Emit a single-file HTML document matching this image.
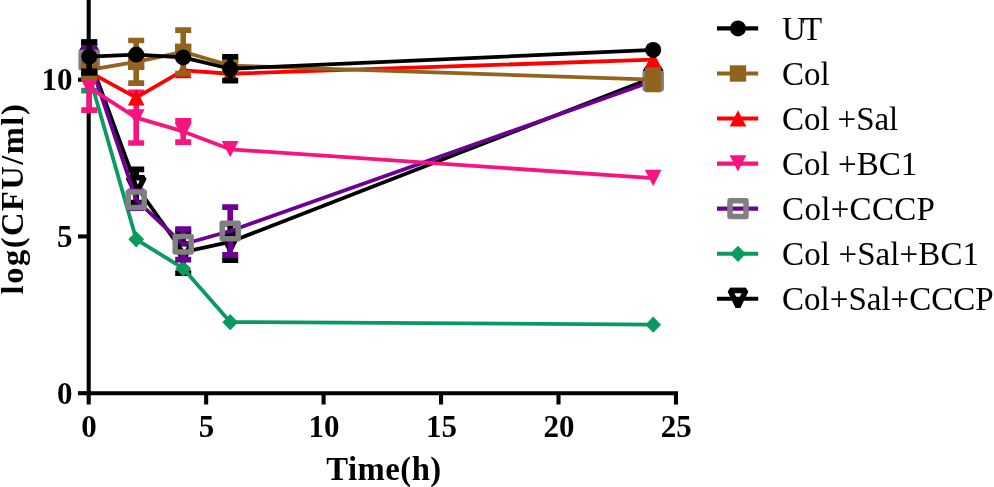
<!DOCTYPE html>
<html><head><meta charset="utf-8"><title>chart</title>
<style>html,body{margin:0;padding:0;background:#fff;}svg{display:block;will-change:transform;}text{font-family:"Liberation Serif",serif;}</style></head><body>
<svg width="994" height="487" viewBox="0 0 994 487">
<rect width="994" height="487" fill="#fff"/>
<g stroke="#000" stroke-width="4.1" fill="none" stroke-linecap="butt">
<line x1="88.7" y1="0" x2="88.7" y2="395.25"/>
<line x1="86.65" y1="393.2" x2="678" y2="393.2"/>
<line x1="88.70" y1="393" x2="88.70" y2="404.5"/>
<line x1="206.15" y1="393" x2="206.15" y2="404.5"/>
<line x1="323.60" y1="393" x2="323.60" y2="404.5"/>
<line x1="441.05" y1="393" x2="441.05" y2="404.5"/>
<line x1="558.50" y1="393" x2="558.50" y2="404.5"/>
<line x1="675.95" y1="393" x2="675.95" y2="404.5"/>
<line x1="78" y1="393.20" x2="89" y2="393.20"/>
<line x1="78" y1="236.45" x2="89" y2="236.45"/>
<line x1="78" y1="79.70" x2="89" y2="79.70"/>
</g>
<g font-weight="bold" font-size="31" fill="#000">
<text transform="translate(89.10,436.6) scale(1,1.045)" text-anchor="middle">0</text>
<text transform="translate(206.55,436.6) scale(1,1.045)" text-anchor="middle">5</text>
<text transform="translate(324.00,436.6) scale(1,1.045)" text-anchor="middle">10</text>
<text transform="translate(441.45,436.6) scale(1,1.045)" text-anchor="middle">15</text>
<text transform="translate(558.90,436.6) scale(1,1.045)" text-anchor="middle">20</text>
<text transform="translate(676.35,436.6) scale(1,1.045)" text-anchor="middle">25</text>
<text transform="translate(72.6,403.70) scale(1,1.045)" text-anchor="end">0</text>
<text transform="translate(72.6,246.95) scale(1,1.045)" text-anchor="end">5</text>
<text transform="translate(72.6,90.20) scale(1,1.045)" text-anchor="end">10</text>
</g>
<text x="384.0" y="479.6" text-anchor="middle" font-weight="bold" font-size="32.7" letter-spacing="0.5">Time(h)</text>
<text transform="translate(23,198.6) rotate(-90)" text-anchor="middle" font-weight="bold" font-size="32.5" letter-spacing="1.5">log(CFU/ml)</text>
<g>
<path d="M89.20 42.39 L89.20 49.75 M89.20 65.75 L89.20 73.12 M81.20 42.39 L97.20 42.39 M81.20 73.12 L97.20 73.12" stroke="#000000" stroke-width="5.6" fill="none"/>
<path d="M136.20 169.36 L136.20 177.98 M136.20 193.98 L136.20 202.59 M128.20 169.36 L144.20 169.36 M128.20 202.59 L144.20 202.59" stroke="#000000" stroke-width="5.6" fill="none"/>
<path d="M183.20 231.12 L183.20 244.12 M183.20 260.12 L183.20 273.13 M175.20 231.12 L191.20 231.12 M175.20 273.13 L191.20 273.13" stroke="#000000" stroke-width="5.6" fill="none"/>
<path d="M230.20 223.75 L230.20 233.94 M230.20 249.94 L230.20 260.12 M222.20 223.75 L238.20 223.75 M222.20 260.12 L238.20 260.12" stroke="#000000" stroke-width="5.6" fill="none"/>
<path d="M81.30 49.55 L97.10 49.55 L89.20 65.75 Z" fill="none" stroke="#000000" stroke-width="5.4" stroke-linejoin="bevel"/><path d="M81.30 49.15 L97.10 49.15" stroke="#000000" stroke-width="4.6" fill="none"/>
<path d="M128.30 177.78 L144.10 177.78 L136.20 193.98 Z" fill="none" stroke="#000000" stroke-width="5.4" stroke-linejoin="bevel"/><path d="M128.30 177.38 L144.10 177.38" stroke="#000000" stroke-width="4.6" fill="none"/>
<path d="M175.30 243.92 L191.10 243.92 L183.20 260.12 Z" fill="none" stroke="#000000" stroke-width="5.4" stroke-linejoin="bevel"/><path d="M175.30 243.52 L191.10 243.52" stroke="#000000" stroke-width="4.6" fill="none"/>
<path d="M222.30 233.74 L238.10 233.74 L230.20 249.94 Z" fill="none" stroke="#000000" stroke-width="5.4" stroke-linejoin="bevel"/><path d="M222.30 233.34 L238.10 233.34" stroke="#000000" stroke-width="4.6" fill="none"/>
<path d="M645.30 69.31 L661.10 69.31 L653.20 85.51 Z" fill="none" stroke="#000000" stroke-width="5.4" stroke-linejoin="bevel"/><path d="M645.30 68.91 L661.10 68.91" stroke="#000000" stroke-width="4.6" fill="none"/>
<polyline points="89.20,57.75 136.20,185.98 183.20,252.12 230.20,241.94 653.20,77.51" fill="none" stroke="#000000" stroke-width="3.8" stroke-linejoin="round"/>
</g>
<g>
<path d="M89.20 59.32 L89.20 90.67 M81.20 59.32 L97.20 59.32 M81.20 90.67 L97.20 90.67" stroke="#0B9962" stroke-width="5.6" fill="none"/>
<polyline points="89.20,75.00 136.20,239.27 183.20,268.43 230.20,322.04 653.20,324.54" fill="none" stroke="#0B9962" stroke-width="3.8" stroke-linejoin="round"/>
<path d="M89.20 67.00 L97.10 75.10 L89.20 83.30 L81.30 75.10 Z" fill="#0B9962"/>
<path d="M136.20 231.27 L144.10 239.37 L136.20 247.57 L128.30 239.37 Z" fill="#0B9962"/>
<path d="M183.20 260.43 L191.10 268.53 L183.20 276.73 L175.30 268.53 Z" fill="#0B9962"/>
<path d="M230.20 314.04 L238.10 322.14 L230.20 330.34 L222.30 322.14 Z" fill="#0B9962"/>
<path d="M653.20 316.54 L661.10 324.64 L653.20 332.84 L645.30 324.64 Z" fill="#0B9962"/>
</g>
<g>
<path d="M89.20 46.78 L89.20 51.95 M89.20 67.95 L89.20 73.12 M81.20 46.78 L97.20 46.78 M81.20 73.12 L97.20 73.12" stroke="#6D0094" stroke-width="5.6" fill="none"/>
<path d="M136.20 191.31 L136.20 191.77 M136.20 207.77 L136.20 208.23 M128.20 191.31 L144.20 191.31 M128.20 208.23 L144.20 208.23" stroke="#6D0094" stroke-width="5.6" fill="none"/>
<path d="M183.20 228.93 L183.20 236.29 M183.20 252.29 L183.20 259.65 M175.20 228.93 L191.20 228.93 M175.20 259.65 L191.20 259.65" stroke="#6D0094" stroke-width="5.6" fill="none"/>
<path d="M230.20 207.08 L230.20 222.96 M230.20 238.96 L230.20 254.85 M222.20 207.08 L238.20 207.08 M222.20 254.85 L238.20 254.85" stroke="#6D0094" stroke-width="5.6" fill="none"/>
<polyline points="89.20,59.95 136.20,199.77 183.20,244.29 230.20,230.96 653.20,80.95" fill="none" stroke="#6D0094" stroke-width="3.8" stroke-linejoin="round"/>
<rect x="81.20" y="52.15" width="16" height="15.6" fill="none" stroke="#808080" stroke-width="5.5" stroke-linejoin="round"/>
<rect x="128.20" y="191.97" width="16" height="15.6" fill="none" stroke="#808080" stroke-width="5.5" stroke-linejoin="round"/>
<rect x="175.20" y="236.49" width="16" height="15.6" fill="none" stroke="#808080" stroke-width="5.5" stroke-linejoin="round"/>
<rect x="222.20" y="223.16" width="16" height="15.6" fill="none" stroke="#808080" stroke-width="5.5" stroke-linejoin="round"/>
<rect x="645.20" y="73.15" width="16" height="15.6" fill="none" stroke="#808080" stroke-width="5.5" stroke-linejoin="round"/>
</g>
<g>
<path d="M89.20 64.97 L89.20 110.11 M81.20 64.97 L97.20 64.97 M81.20 110.11 L97.20 110.11" stroke="#F7147F" stroke-width="5.6" fill="none"/>
<path d="M136.20 92.24 L136.20 143.03 M128.20 92.24 L144.20 92.24 M128.20 143.03 L144.20 143.03" stroke="#F7147F" stroke-width="5.6" fill="none"/>
<path d="M183.20 120.77 L183.20 142.09 M175.20 120.77 L191.20 120.77 M175.20 142.09 L191.20 142.09" stroke="#F7147F" stroke-width="5.6" fill="none"/>
<polyline points="89.20,87.54 136.20,117.63 183.20,131.43 230.20,149.30 653.20,178.14" fill="none" stroke="#F7147F" stroke-width="3.8" stroke-linejoin="round"/>
<path d="M80.80 79.14 L97.60 79.14 L89.20 95.54 Z" fill="#F7147F"/>
<path d="M127.80 109.23 L144.60 109.23 L136.20 125.63 Z" fill="#F7147F"/>
<path d="M174.80 123.03 L191.60 123.03 L183.20 139.43 Z" fill="#F7147F"/>
<path d="M221.80 140.90 L238.60 140.90 L230.20 157.30 Z" fill="#F7147F"/>
<path d="M644.80 169.74 L661.60 169.74 L653.20 186.14 Z" fill="#F7147F"/>
</g>
<g>
<polyline points="89.20,71.86 136.20,97.57 183.20,70.29 230.20,73.74 653.20,59.64" fill="none" stroke="#FF0000" stroke-width="3.8" stroke-linejoin="round"/>
<path d="M89.20 63.66 L97.50 79.86 L80.90 79.86 Z" fill="#FF0000"/>
<path d="M136.20 89.37 L144.50 105.57 L127.90 105.57 Z" fill="#FF0000"/>
<path d="M183.20 62.09 L191.50 78.29 L174.90 78.29 Z" fill="#FF0000"/>
<path d="M230.20 65.54 L238.50 81.74 L221.90 81.74 Z" fill="#FF0000"/>
<path d="M653.20 51.44 L661.50 67.64 L644.90 67.64 Z" fill="#FF0000"/>
</g>
<g>
<path d="M89.20 62.58 L89.20 77.38 M81.20 62.58 L97.20 62.58 M81.20 77.38 L97.20 77.38" stroke="#92631D" stroke-width="5.6" fill="none"/>
<path d="M136.20 40.51 L136.20 83.15 M128.20 40.51 L144.20 40.51 M128.20 83.15 L144.20 83.15" stroke="#92631D" stroke-width="5.6" fill="none"/>
<path d="M183.20 30.17 L183.20 73.43 M175.20 30.17 L191.20 30.17 M175.20 73.43 L191.20 73.43" stroke="#92631D" stroke-width="5.6" fill="none"/>
<path d="M653.20 69.98 L653.20 89.42 M645.20 69.98 L661.20 69.98 M645.20 89.42 L661.20 89.42" stroke="#92631D" stroke-width="5.6" fill="none"/>
<polyline points="89.20,69.98 136.20,61.83 183.20,51.80 230.20,65.59 653.20,79.70" fill="none" stroke="#92631D" stroke-width="3.8" stroke-linejoin="round"/>
<rect x="81.00" y="61.78" width="16.4" height="16.4" fill="#92631D"/>
<rect x="128.00" y="53.63" width="16.4" height="16.4" fill="#92631D"/>
<rect x="175.00" y="43.60" width="16.4" height="16.4" fill="#92631D"/>
<rect x="222.00" y="57.39" width="16.4" height="16.4" fill="#92631D"/>
<rect x="645.00" y="71.50" width="16.4" height="16.4" fill="#92631D"/>
</g>
<g>
<path d="M89.20 42.11 L89.20 71.20 M81.20 42.11 L97.20 42.11 M81.20 71.20 L97.20 71.20" stroke="#000000" stroke-width="5.6" fill="none"/>
<path d="M230.20 56.81 L230.20 80.64 M222.20 56.81 L238.20 56.81 M222.20 80.64 L238.20 80.64" stroke="#000000" stroke-width="5.6" fill="none"/>
<path d="M81.20 73.9 L97.20 73.9" stroke="#000" stroke-width="3.6" fill="none"/>
<polyline points="89.20,56.66 136.20,54.62 183.20,57.44 230.20,68.73 653.20,49.92" fill="none" stroke="#000000" stroke-width="3.8" stroke-linejoin="round"/>
<circle cx="89.20" cy="56.66" r="8" fill="#000000"/>
<circle cx="136.20" cy="54.62" r="8" fill="#000000"/>
<circle cx="183.20" cy="57.44" r="8" fill="#000000"/>
<circle cx="230.20" cy="68.73" r="8" fill="#000000"/>
<circle cx="653.20" cy="49.92" r="8" fill="#000000"/>
</g>
<line x1="717" y1="28.4" x2="758.2" y2="28.4" stroke="#000000" stroke-width="4.1"/>
<circle cx="738.00" cy="28.40" r="8" fill="#000000"/>
<text x="782.1" y="39.7" font-size="33" letter-spacing="0" fill="#000">U<tspan dx="-4">T</tspan></text>
<line x1="717" y1="73.5" x2="758.2" y2="73.5" stroke="#92631D" stroke-width="4.1"/>
<rect x="729.80" y="65.30" width="16.4" height="16.4" fill="#92631D"/>
<text x="782.1" y="84.8" font-size="33" letter-spacing="0" fill="#000">Col</text>
<line x1="717" y1="118.5" x2="758.2" y2="118.5" stroke="#FF0000" stroke-width="4.1"/>
<path d="M738.00 110.30 L746.30 126.50 L729.70 126.50 Z" fill="#FF0000"/>
<text x="782.1" y="129.8" font-size="33" letter-spacing="-0.1" fill="#000">Col +Sal</text>
<line x1="717" y1="163.6" x2="758.2" y2="163.6" stroke="#F7147F" stroke-width="4.1"/>
<path d="M729.60 155.20 L746.40 155.20 L738.00 171.60 Z" fill="#F7147F"/>
<text x="782.1" y="174.9" font-size="33" letter-spacing="0" fill="#000">Col +BC1</text>
<line x1="717" y1="208.6" x2="758.2" y2="208.6" stroke="#6D0094" stroke-width="4.1"/>
<rect x="730.00" y="200.80" width="16" height="15.6" fill="none" stroke="#808080" stroke-width="5.5" stroke-linejoin="round"/>
<text x="782.1" y="219.9" font-size="33" letter-spacing="0.3" fill="#000">Col+CCCP</text>
<line x1="717" y1="253.7" x2="758.2" y2="253.7" stroke="#0B9962" stroke-width="4.1"/>
<path d="M738.00 245.70 L745.90 253.80 L738.00 262.00 L730.10 253.80 Z" fill="#0B9962"/>
<text x="782.1" y="265.0" font-size="33" letter-spacing="0.1" fill="#000">Col +Sal+BC1</text>
<path d="M730.10 290.50 L745.90 290.50 L738.00 306.70 Z" fill="none" stroke="#000000" stroke-width="5.4" stroke-linejoin="bevel"/><path d="M730.10 290.10 L745.90 290.10" stroke="#000000" stroke-width="4.6" fill="none"/>
<line x1="717" y1="298.7" x2="758.2" y2="298.7" stroke="#000000" stroke-width="4.1"/>
<text x="782.1" y="310.0" font-size="33" letter-spacing="0" fill="#000">Col+Sal+CCCP</text>
</svg></body></html>
